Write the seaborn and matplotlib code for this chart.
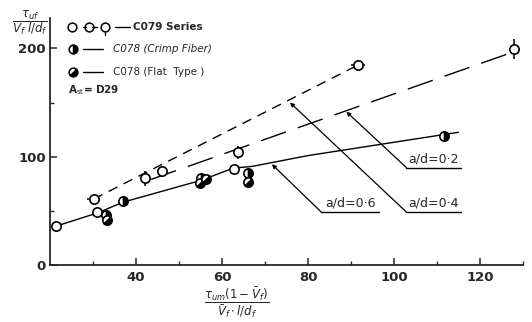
import numpy as np
import pandas as pd
import seaborn as sns
import matplotlib.pyplot as plt
from matplotlib.markers import MarkerStyle
from matplotlib.transforms import Affine2D

# C079 series, open circles (some with scatter bars)
c079_x = [21.5, 31.0, 30.2, 42.0, 46.0, 62.8, 63.8, 91.6, 127.8]
c079_y = [36, 49, 61, 80, 87, 89, 104, 184.5, 199.5]
c079_xerr = [0, 0, 1.5, 0, 1.1, 0, 0, 1.6, 0]
c079_yerr = [0, 0, 0, 7, 0, 0, 6, 0, 9]

# C078 crimp fiber
crimp_x = [33.0, 37.0, 55.0, 66.0, 111.6]
crimp_y = [46, 59.5, 80, 85, 119]
# C078 flat type
flat_x = [33.2, 54.8, 56.2, 66.0]
flat_y = [41.5, 75.5, 79, 77]

# fitted lines for each a/d
line06_x = [21.5, 31, 37, 55, 62.7, 67, 80, 115]
line06_y = [36, 48, 58, 78, 89.5, 91, 101, 122.5]
line04_x = [30.2, 91.6]
line04_y = [61, 184.5]
line02_x = [43.5, 128]
line02_y = [79, 197]

# a/d labels with leader lines
ad_labels = ['a/d=0·2', 'a/d=0·4', 'a/d=0·6']
ad_x0 = [102.9, 102.9, 83.1]
ad_x1 = [115.6, 115.6, 96.6]
ad_y = [89.9, 48.8, 48.8]
ad_tip_x = [88.9, 75.8, 71.6]
ad_tip_y = [141.5, 150, 93]

sns.set_style("ticks")
plt.rcParams['font.family'] = ['DejaVu Sans']

fig = plt.figure(figsize=(5.32, 3.22), dpi=100)
ax = fig.add_axes([50 / 532, 57 / 322, 473 / 532, 247 / 322])

sns.lineplot(x=line06_x, y=line06_y, sort=False, estimator=None, color='black',
             linewidth=1.0, ax=ax, zorder=2)
sns.lineplot(x=line04_x, y=line04_y, sort=False, estimator=None, color='black',
             linewidth=1.0, linestyle=(0, (7, 5)), ax=ax, zorder=2)
sns.lineplot(x=line02_x, y=line02_y, sort=False, estimator=None, color='black',
             linewidth=1.0, linestyle=(0, (19, 9)), ax=ax, zorder=2)

ax.errorbar(c079_x, c079_y, xerr=c079_xerr, yerr=c079_yerr, fmt='none',
            ecolor='black', elinewidth=1.1, capsize=0, zorder=3)
sns.scatterplot(x=c079_x, y=c079_y, marker='o', s=45, facecolor='white',
                edgecolor='black', linewidth=1.2, zorder=4, ax=ax)

ax.plot(crimp_x, crimp_y, ls='none', marker='o', ms=6.7, fillstyle='right',
        markerfacecolor='black', markerfacecoloralt='white', mec='black',
        mew=1.2, zorder=5)
flat_marker = MarkerStyle('o', fillstyle='bottom', transform=Affine2D().rotate_deg(45))
ax.plot(flat_x, flat_y, ls='none', marker=flat_marker, ms=6.7,
        markerfacecolor='black', markerfacecoloralt='white', mec='black',
        mew=1.2, zorder=5)

# a/d annotations
for lab, x0, x1, yy, tx, ty in zip(ad_labels, ad_x0, ad_x1, ad_y, ad_tip_x, ad_tip_y):
    ax.plot([x0, x1], [yy, yy], color='black', lw=1.0)
    ax.text((x0 + x1) / 2, yy + 2, lab, ha='center', va='bottom', fontsize=9)
    ax.annotate('', xy=(tx, ty), xytext=(x0, yy),
                arrowprops=dict(arrowstyle='-|>', color='black', lw=0.9,
                                mutation_scale=6, shrinkA=0, shrinkB=0))

ax.set_xlim(20, 130)
ax.set_ylim(0, 228)
ax.set_xticks([40, 60, 80, 100, 120])
ax.set_xticks([30, 50, 70, 90, 110, 130], minor=True)
ax.set_yticks([0, 100, 200])
ax.set_yticks([50, 150], minor=True)
ax.tick_params(which='major', direction='in', length=5, width=1.1, labelsize=9.5, pad=3)
ax.tick_params(which='minor', direction='in', length=3, width=1.0)
ax.tick_params(axis='x', pad=4)
for lbl in ax.get_xticklabels() + ax.get_yticklabels():
    lbl.set_fontweight('bold')
sns.despine(ax=ax)
for s in ['left', 'bottom']:
    ax.spines[s].set_linewidth(1.3)

# legend drawn by hand
tr = ax.transAxes
kw = dict(transform=tr, clip_on=False, color='black')
ax.plot([0.0459, 0.0831, 0.1163], [0.962] * 3, ls='none', marker='o', ms=6.3,
        mfc='white', mec='black', mew=1.1, transform=tr, clip_on=False)
ax.plot([0.0691, 0.0765], [0.962, 0.962], lw=1.0, **kw)
ax.plot([0.0897, 0.0987], [0.962, 0.962], lw=1.0, **kw)
ax.plot([0.1163, 0.1163], [0.979, 0.980], lw=1.0, **kw)
ax.plot([0.1163, 0.1163], [0.945, 0.930], lw=1.0, **kw)
ax.plot([0.1374, 0.1690], [0.962, 0.962], lw=1.0, **kw)
ax.text(0.1761, 0.962, 'C079 Series', fontsize=7.5, fontweight='bold', va='center', transform=tr)

ax.plot([0.0493], [0.873], ls='none', marker='o', ms=6.3, fillstyle='right',
        markerfacecolor='black', markerfacecoloralt='white', mec='black', mew=1.1,
        transform=tr, clip_on=False)
ax.plot([0.0705, 0.1127], [0.873, 0.873], lw=1.0, **kw)
ax.text(0.1325, 0.873, 'C078 (Crimp Fiber)', fontsize=7.5, fontstyle='italic', va='center', transform=tr)

ax.plot([0.0493], [0.783], ls='none', marker=flat_marker, ms=6.3,
        markerfacecolor='black', markerfacecoloralt='white', mec='black', mew=1.1,
        transform=tr, clip_on=False)
ax.plot([0.0705, 0.1127], [0.783, 0.783], lw=1.0, **kw)
ax.text(0.1325, 0.783, 'C078 (Flat  Type )', fontsize=7.5, va='center', transform=tr)

ax.text(0.0387, 0.709, r'A$_{\rm st}$= D29', fontsize=7.5, fontweight='bold', va='center', transform=tr)

# axis titles as fractions
fig.text(30 / 532, 1 - 23 / 322, r'$\dfrac{\tau_{uf}}{V_f\ l/d_f}$', fontsize=8.5,
         ha='center', va='center', fontweight='bold')
fig.text(237 / 532, 1 - 285 / 322, r'$\dfrac{\tau_{um}(1-\bar{V}_f)}{\bar{V}_f\cdot l/d_f}$',
         fontsize=8.5, ha='center', va='top')

fig.savefig('out.png', dpi=100)
